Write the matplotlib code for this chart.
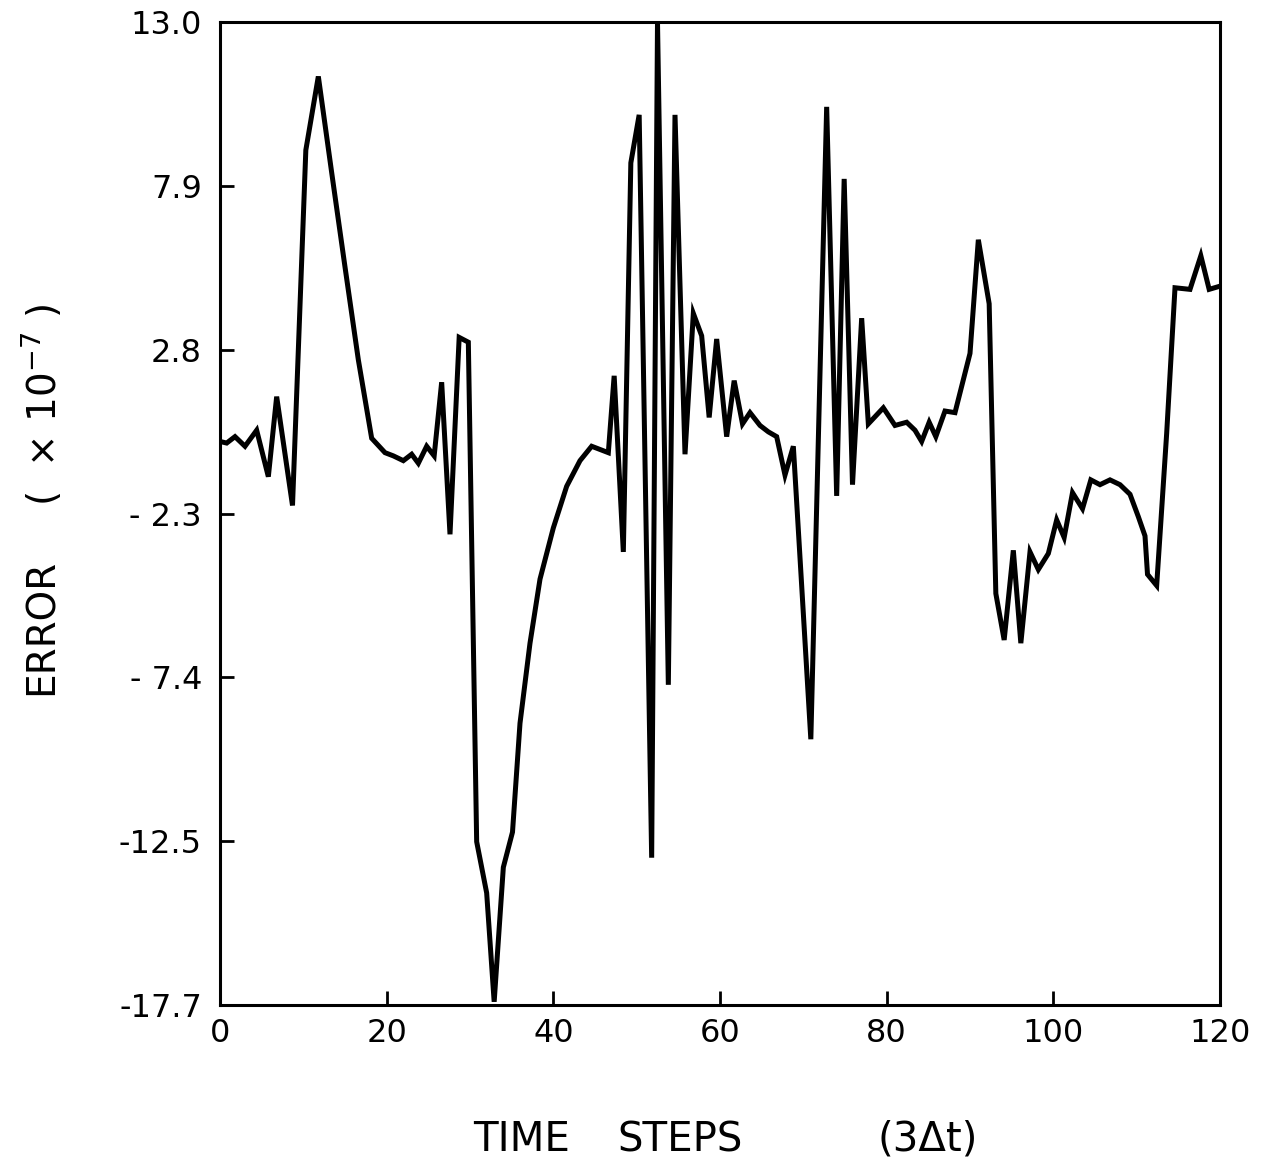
import numpy as np
import matplotlib
matplotlib.use("Agg")
import matplotlib.pyplot as plt

# time step positions (3 dt units)
steps = [0.0, 0.8, 1.8, 3.0, 4.4, 5.8, 6.8, 8.7, 10.3, 11.8,
         13.4, 15.0, 16.6, 18.2, 19.8, 20.8, 22.0, 23.0, 23.8, 24.8,
         25.7, 26.6, 27.6, 28.7, 29.8, 30.8, 32.0, 32.9, 34.0, 35.1,
         36.0, 37.2, 38.4, 40.0, 41.6, 43.2, 44.6, 46.6, 47.3, 48.4,
         49.3, 50.3, 51.8, 52.5, 53.8, 54.6, 55.8, 56.8, 57.8, 58.7,
         59.6, 60.8, 61.7, 62.7, 63.6, 64.8, 65.8, 66.8, 67.8, 68.8,
         69.8, 70.9, 72.8, 74.0, 74.9, 75.9, 77.0, 77.8, 79.6, 81.0,
         82.4, 83.4, 84.2, 85.1, 85.9, 87.0, 88.2, 90.0, 91.0, 92.3,
         93.1, 94.1, 95.2, 96.1, 97.2, 98.2, 99.4, 100.4, 101.3, 102.3,
         103.5, 104.5, 105.6, 106.8, 108.0, 109.2, 110.2, 111.0, 111.3, 112.4,
         113.6, 114.6, 116.4, 117.7, 118.7, 120.0]

# error values (x 1e-7)
error = [-0.1, -0.15, 0.05, -0.25, 0.25, -1.2, 1.3, -2.1, 9.0, 11.3,
         8.3, 5.35, 2.45, 0.0, -0.45, -0.55, -0.7, -0.5, -0.78, -0.25,
         -0.55, 1.75, -3.0, 3.15, 3.0, -12.6, -14.2, -17.6, -13.4, -12.3,
         -8.9, -6.4, -4.4, -2.8, -1.5, -0.7, -0.25, -0.45, 1.95, -3.55,
         8.6, 10.1, -13.1, 13.0, -7.7, 10.1, -0.5, 3.9, 3.2, 0.65,
         3.1, 0.05, 1.8, 0.45, 0.8, 0.4, 0.2, 0.05, -1.15, -0.25,
         -4.6, -9.4, 10.35, -1.8, 8.1, -1.45, 3.75, 0.45, 0.95, 0.4,
         0.5, 0.25, -0.1, 0.5, 0.05, 0.85, 0.8, 2.65, 6.2, 4.2,
         -4.85, -6.3, -3.5, -6.4, -3.55, -4.1, -3.6, -2.55, -3.1, -1.7,
         -2.2, -1.3, -1.45, -1.3, -1.45, -1.75, -2.45, -3.05, -4.25, -4.6,
         0.15, 4.7, 4.65, 5.7, 4.65, 4.75]

xticks = [0, 20, 40, 60, 80, 100, 120]
ylabels = ["-17.7", "-12.5", "- 7.4", "- 2.3", "2.8", "7.9", "13.0"]
ymin, ymax = -17.7, 13.0

fig = plt.figure(figsize=(12.78, 11.75), dpi=100)
ax = fig.add_axes([220/1278, 1 - 1005/1175, 1000/1278, 983/1175])

ax.plot(steps, error, color="black", lw=3.6, solid_joinstyle="miter")

ax.set_xlim(0, 120)
ax.set_ylim(ymin, ymax)
ax.set_xticks(xticks)
ax.set_xticklabels([str(t) for t in xticks])
ax.set_yticks(np.linspace(ymin, ymax, len(ylabels)))
ax.set_yticklabels(ylabels)

for s in ax.spines.values():
    s.set_linewidth(2.2)
ax.tick_params(direction="in", length=10, width=2, labelsize=23,
               top=False, right=False)
ax.tick_params(axis="x", pad=9)
ax.tick_params(axis="y", pad=13)

# axis titles, spaced out like the original lettering
fig.text(42/1278, 1 - 627/1175, "ERROR", rotation=90,
         ha="center", va="center", fontsize=28)
fig.text(42/1278, 1 - 405/1175, r"(  $\times$ 10$^{-7}$ )", rotation=90,
         ha="center", va="center", fontsize=28)
fig.text(522/1278, 1 - 1140/1175, "TIME", ha="center", va="center", fontsize=29)
fig.text(680/1278, 1 - 1140/1175, "STEPS", ha="center", va="center", fontsize=29)
fig.text(928/1278, 1 - 1140/1175, "(3\u0394t)", ha="center", va="center", fontsize=29)

fig.savefig("out.png", dpi=100)
